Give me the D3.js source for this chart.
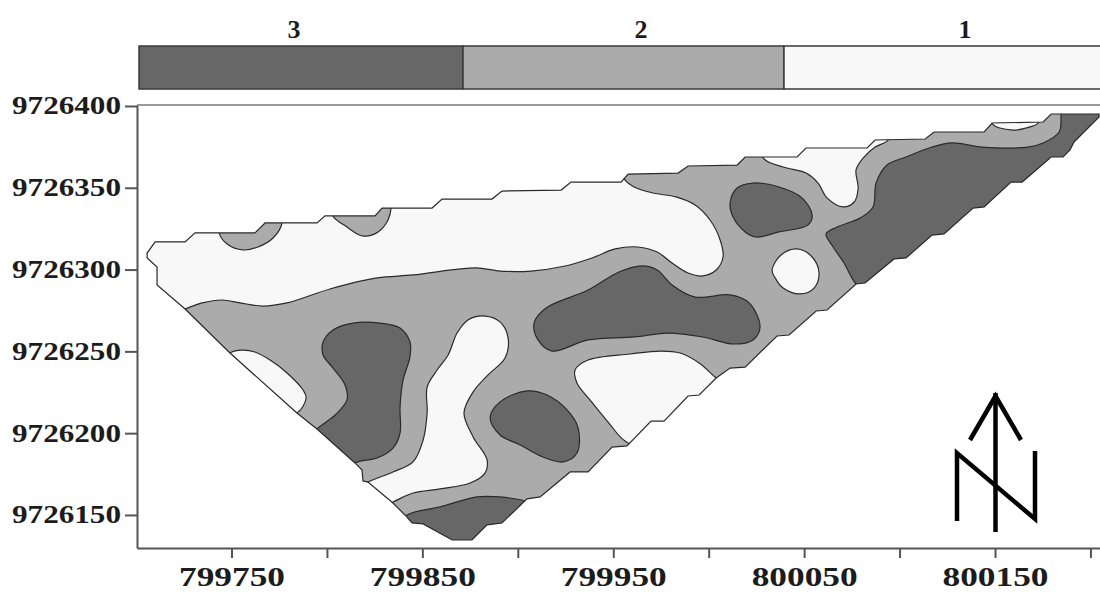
<!DOCTYPE html>
<html lang="en">
<head>
    <meta charset="UTF-8">
    <title>Contour map</title>
    <style>
        body, html {
            margin: 0;
            background-color: white;
        }
        svg {
            display: block;
        }
        text {
            font-family: "Liberation Serif", serif;
            font-weight: bold;
            fill: #1c1c1c;
        }
    </style>
</head>
<body>
    <svg id="svg" width="1100" height="592"></svg>
    <script src="https://d3js.org/d3.v7.min.js"></script>
    <script>
        // legend classes and grey tones
        const levels = ["3", "2", "1"]
        const tones = ["#676767", "#ababab", "#f8f8f8"]

        // axis ticks (easting / northing)
        const xTicks = [799750, 799800, 799850, 799900, 799950, 800000, 800050, 800100, 800150, 800200]
        const xTickLabels = [799750, 799850, 799950, 800050, 800150]
        const yTicks = [9726150, 9726200, 9726250, 9726300, 9726350, 9726400]

        // map origin: all polygons below are metres east / north of this
        const originE = 799700
        const originN = 9726100

        const surveyOutline = [[10,216.9],[25.7,216.9],[30.9,222.4],[62.3,222.4],[67.6,228.5],[94.8,228.5],[99,232.8],[125.2,232.8],
            [128.9,237.6],[155.1,237.6],[160.3,243.1],[186.5,243.1],[191.7,248],[222.7,248.6],[227.9,253.5],[254.1,253.5],
            [257.8,258.4],[284,259],[289.2,263.3],[314.9,263.9],[319.1,268.8],[346.3,268.8],[351,274.3],[383,274.3],
            [387.2,279.2],[413.4,279.8],[418.1,284.1],[444.3,284.1],[448.5,289.6],[475.2,290.2],[479.4,295.1],[504.5,295.1],
            [504.5,293.3],[491.4,278],[489.3,273.1],[485.7,268.8],[479.4,268.8],[464.2,253.5],[458.4,253.5],[444.3,238.3],
            [438.5,237.6],[423.3,221.8],[417,221.1],[403.4,207.1],[397.1,206.5],[381.9,191.8],[377.2,191.2],[362,175.3],
            [356.3,174.7],[342.1,160],[335.8,159.4],[319.1,140.4],[311.2,139.8],[303.9,133.7],[295,123.3],[289.2,122.7],
            [276.6,107.4],[269.8,107.4],[257.2,92.2],[249.4,91.5],[236.8,76.3],[227.4,76.3],[211.7,61],[204.8,59.8],
            [191.7,45.1],[183.9,43.9],[176,34.7],[165.6,34.7],[150.4,44.5],[144.6,45.1],[140.9,50],[134.6,57.3],
            [121.5,70.1],[118.9,70.8],[118.4,77.5],[114.7,81.8],[94.8,102.5],[84.3,112.3],[49.2,149],[25.7,175.9],
            [11,190.6],[11,201.6],[5.8,207.1],[5.8,210.1]]

        // class 1 patches
        const lightTopLeft = [[25.7,175.9],[34.6,179.6],[45.1,181.4],[54.5,179.6],[66.5,177.7],[79.1,179.6],[101.6,188.1],[126.3,194.9],
            [145.1,196.7],[169.7,200.4],[178.6,201],[190.7,199.1],[206.9,199.1],[224.8,202.2],[238.9,207.1],[251,212.6],
            [263,213.8],[273,210.7],[280.8,204],[289.2,197.9],[297,196.1],[303.9,199.7],[307.5,207.7],[306,218.1],
            [300.7,230.3],[292.9,239.5],[282.9,244.4],[270.9,246.8],[260.9,250.5],[255.7,255.4],[253.6,263.9],[138.3,273.1],
            [-3.1,233.4],[-3.1,187.5],[17.8,172.2]]
        const lightSliver = [[49.2,149],[55.5,150.8],[62.3,149.6],[70.2,144.7],[79.1,136.8],[87.5,126.4],[89.1,121.5],[84.3,112.3],
            [75.4,112.9],[46.6,141.7]]
        const lightCentre = [[121.5,70.1],[134.6,76.3],[145.1,82.4],[150.4,95.8],[152.5,112.3],[152.5,128.2],[157.7,138.6],[163.5,147.8],
            [168.2,161.2],[173.9,169.2],[182.8,171.6],[190.7,168],[194.9,158.2],[193.3,146],[184.4,135.6],[176.6,125.2],
            [171.8,112.3],[176.6,97.7],[183.9,83.6],[182.8,75.6],[175,69.5],[159.3,65.9],[145.1,63.4],[134.6,57.9],
            [125.2,53],[114.7,65.3]]
        const lightLowerMid = [[303.9,133.7],[295,142.9],[285,149],[275,150.2],[258.8,148.4],[236.8,144.7],[230,138.6],[231,130.7],
            [237.8,120.3],[247.3,106.8],[256.2,95.2],[269.3,89.7],[308.6,129.4]]
        const lightCircle = [[333.2,199.7],[337.9,208.9],[346.3,212.6],[354.2,207.7],[357.8,197.9],[355.2,188.7],[347.9,185.1],[339,188.7],[334.8,194.9]]
        const lightUpperRight = [[329,267.6],[339,262.7],[351,259],[357.3,252.9],[362,243.8],[370.4,238.3],[376.2,241.3],[378.3,249.9],
            [377.2,260.9],[381.4,268.8],[387.2,274.9],[394,279.2],[395,288.4],[326.9,278]]
        const lightTopRight = [[448.5,289],[459.5,285.3],[468.4,287.2],[472.6,289.6],[473.6,297.6],[447.4,297.6]]

        // class 2 patches sitting inside the class 1 area
        const midBumpA = [[43.5,222.4],[47.7,215.6],[56.1,212],[63.9,213.8],[71.8,219.3],[76.5,228.5],[75.4,236.4],[44,229.1]]
        const midBumpB = [[103.2,232.8],[110.5,226],[118.9,220.5],[126.8,223],[132,230.3],[133.6,237.6],[133.1,245.6],[103.2,239.5]]

        // class 3 patches
        const darkWest = [[94.8,102.5],[104.3,111.1],[110.5,120.3],[109.5,129.4],[103.2,139.8],[98,147.8],[98,155.7],[103.2,163.1],
            [113.7,167.3],[127.8,167.3],[138.3,164.3],[143.5,155.7],[143.5,146.6],[139.9,132.5],[138.3,116],[138.3,100.1],
            [134.6,90.9],[126.3,84.8],[114.7,81.8],[109.5,74.4],[91.2,95.8]]
        const darkSouth = [[142,50],[159.3,54.9],[178.6,61],[190.7,61],[203.8,58.5],[219.5,50],[180.2,22.5],[135.7,40.8]]
        const darkOval = [[185.5,109.3],[190.7,119.1],[204.8,125.8],[215.3,123.3],[225.8,114.2],[231.6,103.2],[231,87.9],[223.7,82.4],
            [213.2,85.4],[201.2,92.8],[190.7,98.9]]
        const darkMiddle = [[208.5,167.3],[214.8,176.5],[236.8,187.5],[253,198.5],[265.1,202.2],[273,199.7],[280.8,190.6],[292.9,183.2],
            [311.2,184.5],[321.2,179.6],[326.9,164.9],[323.2,157],[312.8,154.5],[297,158.8],[278.7,161.2],[260.9,158.8],
            [236.8,157],[217.9,150.2],[210.6,157]]
        const darkNorth = [[311.2,240.7],[314.9,249.9],[323.2,252.9],[336.9,250.5],[348.9,243.8],[354.2,233.4],[352.1,227.3],[336.9,223],
            [324.8,219.9],[319.1,223],[312.8,232.1]]
        const darkEast = [[377.2,191.2],[370.9,204],[365.2,213.8],[361.5,221.8],[367.3,226],[379.3,231.5],[386.1,238.3],[387.7,252.9],
            [393.4,263.9],[403.4,268.8],[417,274.9],[427.5,277.4],[443.2,274.9],[467.3,274.9],[475.2,277.4],[483.6,284.1],
            [484.6,293.3],[484.6,300.6],[515.5,300.6],[515.5,273.1],[389.8,181.4]]

        const lightPatches = [lightTopLeft, lightSliver, lightCentre, lightLowerMid, lightCircle, lightUpperRight, lightTopRight]
        const midPatches = [midBumpA, midBumpB]
        const darkPatches = [darkWest, darkSouth, darkOval, darkMiddle, darkNorth, darkEast]

        const margin = { top: 105, right: 1100, bottom: 548, left: 137 }

        const xscale = d3.scaleLinear().domain([799700.5, 800205]).range([margin.left, margin.right])
        const yscale = d3.scaleLinear().domain([9726129.8, 9726400.6]).range([margin.bottom, margin.top])
        const colour = d3.scaleOrdinal().domain(levels).range(tones)

        const svg = d3.select('#svg')

        // legend bar
        const legendEdges = [139, 463, 784, 1105]
        const labelX = [294, 641, 965]

        svg.append('g').selectAll('rect')
            .data(levels)
            .enter()
            .append('rect')
            .attr('x', (d, i) => legendEdges[i])
            .attr('y', 46)
            .attr('width', (d, i) => legendEdges[i + 1] - legendEdges[i])
            .attr('height', 43)
            .attr('fill', d => colour(d))
            .attr('stroke', '#3a3a3a')
            .attr('stroke-width', 1.5)

        svg.append('g').selectAll('text')
            .data(levels)
            .enter()
            .append('text')
            .attr('x', (d, i) => labelX[i])
            .attr('y', 38)
            .attr('text-anchor', 'middle')
            .attr('font-size', 26)
            .text(d => d)

        // map
        const straight = d3.line()
            .x(d => xscale(originE + d[0]))
            .y(d => yscale(originN + d[1]))
            .curve(d3.curveLinearClosed)
        const smooth = d3.line()
            .x(d => xscale(originE + d[0]))
            .y(d => yscale(originN + d[1]))
            .curve(d3.curveCatmullRomClosed.alpha(0.5))
        const outlinePath = straight(surveyOutline)

        svg.append('clipPath').attr('id', 'survey')
            .append('path').attr('d', outlinePath)

        svg.append('path').attr('d', outlinePath).attr('fill', colour("2"))

        const map = svg.append('g').attr('clip-path', 'url(#survey)')
        const drawPatches = (patches, level) => {
            map.append('g').selectAll('path')
                .data(patches)
                .enter()
                .append('path')
                .attr('d', d => smooth(d))
                .attr('fill', colour(level))
                .attr('stroke', '#2a2a2a')
                .attr('stroke-width', 1.2)
        }
        drawPatches(lightPatches, "1")
        drawPatches(midPatches, "2")
        drawPatches(darkPatches, "3")

        svg.append('path')
            .attr('d', outlinePath)
            .attr('fill', 'none')
            .attr('stroke', '#2a2a2a')
            .attr('stroke-width', 1.2)

        // axes
        const bottomAxis = d3.axisBottom(xscale)
            .tickValues(xTicks)
            .tickSize(10)
            .tickSizeOuter(0)
            .tickPadding(8)
            .tickFormat(d => xTickLabels.includes(d) ? d : "")
        const xAxis = svg.append('g')
            .attr('transform', `translate(0, ${margin.bottom})`)
            .call(bottomAxis)
        xAxis.selectAll('text')
            .attr('font-size', 28)
            .attr('font-family', '"Liberation Serif", serif')
            .attr('textLength', d => xTickLabels.includes(d) ? 106 : null)
            .attr('lengthAdjust', 'spacingAndGlyphs')

        const leftAxis = d3.axisLeft(yscale)
            .tickValues(yTicks)
            .tickSize(12)
            .tickSizeOuter(0)
            .tickPadding(4)
            .tickFormat(d3.format("d"))
        const yAxis = svg.append('g')
            .attr('transform', `translate(${margin.left}, 0)`)
            .call(leftAxis)
        yAxis.selectAll('text')
            .attr('font-size', 25)
            .attr('font-family', '"Liberation Serif", serif')
            .attr('textLength', 109)
            .attr('lengthAdjust', 'spacingAndGlyphs')

        svg.selectAll('.domain, .tick line')
            .attr('stroke', '#555')
            .attr('stroke-width', 2)

        svg.append('line')
            .attr('x1', margin.left).attr('x2', margin.right)
            .attr('y1', margin.top).attr('y2', margin.top)
            .attr('stroke', '#777')
            .attr('stroke-width', 1.5)

        // north arrow
        const north = svg.append('g')
            .attr('fill', 'none')
            .attr('stroke', '#000')
            .attr('stroke-width', 4.5)
        north.append('path').attr('d', 'M995.5,393V532')
        north.append('path').attr('d', 'M970,440L995.5,396L1021,440')
        north.append('path').attr('d', 'M957,521V453L1035,519V451')
    </script>
</body>
</html>
